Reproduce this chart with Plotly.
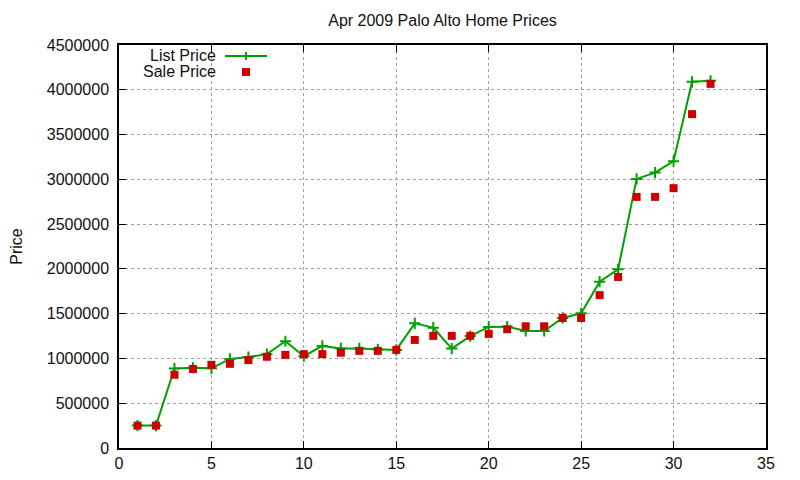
import plotly.graph_objects as go

# ---- data ----
sale_index = list(range(1, 33))
list_price = [250000, 250000, 888000, 896000, 890000, 995000, 1015000, 1048000,
              1192000, 1025000, 1140000, 1112000, 1112000, 1100000, 1095000, 1392000,
              1344000, 1110000, 1250000, 1352000, 1355000, 1307000, 1307000, 1452000,
              1504000, 1857000, 1995000, 3005000, 3075000, 3203000, 4089000, 4100000]
sale_price = [250000, 250000, 818000, 882000, 929000, 940000, 981000, 1019000,
              1040000, 1048000, 1048000, 1064000, 1085000, 1085000, 1096000, 1207000,
              1252000, 1252000, 1252000, 1274000, 1326000, 1359000, 1359000, 1452000,
              1452000, 1707000, 1910000, 2804000, 2804000, 2901000, 3728000, 4066000]
x_ticks = [0, 5, 10, 15, 20, 25, 30, 35]
y_ticks = [0, 500000, 1000000, 1500000, 2000000, 2500000, 3000000, 3500000, 4000000, 4500000]

GREEN = "#00a000"
RED = "#cc0000"
TXT = "#111"
FONT = "Liberation Sans, Arial, sans-serif"

fig = go.Figure()
fig.add_trace(go.Scatter(
    x=sale_index, y=list_price, mode="lines+markers", name="List Price",
    line=dict(color=GREEN, width=2),
    marker=dict(symbol="cross-thin", size=8, line=dict(color=GREEN, width=2)),
    showlegend=False,
))
fig.add_trace(go.Scatter(
    x=sale_index, y=sale_price, mode="markers", name="Sale Price",
    marker=dict(symbol="square", size=8, color=RED, line=dict(width=0)),
    showlegend=False,
))

# page body adds an 8px offset; target plot area on screen: x 119..766, y 45..448
OFF = 8
W, H = 800, 480
SL, SR, ST, SB = 119, 766, 45, 448          # screen coordinates of plot area
L, T = SL - OFF, ST - OFF
R, B = W - (SR - OFF), H - (SB - OFF)
pw, ph = SR - SL, SB - ST
def px(x):
    return (x - SL) / pw
def py(y):
    return (SB - y) / ph

shapes = [
    dict(type="line", xref="paper", yref="paper", x0=px(225), x1=px(267), y0=py(56), y1=py(56),
         line=dict(color=GREEN, width=2)),
    dict(type="line", xref="paper", yref="paper", x0=px(246), x1=px(246), y0=py(52), y1=py(60),
         line=dict(color=GREEN, width=2)),
    dict(type="rect", xref="paper", yref="paper", x0=px(242), x1=px(250), y0=py(68), y1=py(76),
         fillcolor=RED, line=dict(width=0)),
]
annotations = [
    dict(text="List Price", xref="paper", yref="paper", x=px(218), y=py(55), xanchor="right",
         yanchor="middle", showarrow=False, font=dict(family=FONT, size=16, color=TXT)),
    dict(text="Sale Price", xref="paper", yref="paper", x=px(218), y=py(71), xanchor="right",
         yanchor="middle", showarrow=False, font=dict(family=FONT, size=16, color=TXT)),
]

axis_common = dict(
    automargin=False,
    showline=True, linecolor="black", linewidth=1.5, mirror="ticks",
    ticks="inside", ticklen=7, tickcolor="black", tickwidth=1,
    showgrid=True, gridcolor="#a0a0a0", griddash="dot", gridwidth=1,
    zeroline=False, tickfont=dict(family=FONT, size=16, color=TXT),
)

fig.update_layout(
    width=W, height=H,
    margin=dict(l=L, r=R, t=T, b=B),
    paper_bgcolor="white", plot_bgcolor="white",
    title=dict(text="Apr 2009 Palo Alto Home Prices", x=((SL + SR) / 2 - OFF) / W, xanchor="center",
               y=1 - (20 - OFF) / H, yanchor="middle", font=dict(family=FONT, size=16, color=TXT)),
    xaxis=dict(range=[0, 35], tickvals=x_ticks, ticktext=[str(v) for v in x_ticks], **axis_common),
    yaxis=dict(range=[0, 4500000], tickvals=y_ticks, ticktext=[str(v) for v in y_ticks],
               ticklabelstandoff=5,
               title=dict(text="Price", font=dict(family=FONT, size=16, color=TXT), standoff=30),
               **axis_common),
    shapes=shapes, annotations=annotations,
    showlegend=False,
)

fig.write_html("out.html")
